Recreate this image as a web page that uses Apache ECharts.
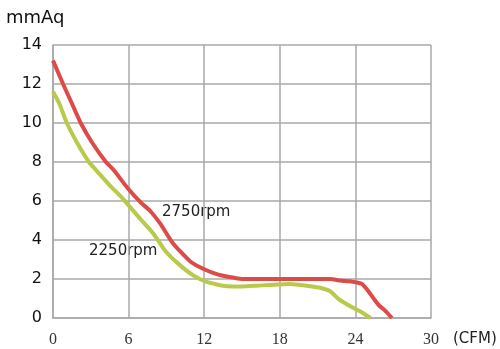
<!DOCTYPE html>
<html><head><meta charset="utf-8">
<script src="https://cdn.jsdelivr.net/npm/echarts@6/dist/echarts.min.js"></script>
<style>html,body{margin:0;padding:0;background:#fff}#c{width:500px;height:349px}</style>
</head><body><div id="c"></div>
<script>
const xTicks = [0, 6, 12, 18, 24, 30];
const yTicks = [0, 2, 4, 6, 8, 10, 12, 14];
const seriesNames = ['2750rpm', '2250rpm'];
const red2750 = [[0,13.2],[0.8,12],[1.5,11],[2.2,10],[3.1,9],[4.2,8],[4.8,7.6],[6.0,6.6],[7.0,5.9],[7.7,5.5],[8.5,4.85],[9.5,3.85],[10.9,2.9],[12,2.5],[13,2.25],[14,2.1],[15,2.0],[18,2.0],[22,2.0],[22.8,1.92],[23.6,1.88],[24.5,1.76],[25.0,1.4],[25.8,0.7],[26.4,0.35],[26.9,0]];
const green2250 = [[0,11.6],[0.5,11],[1.1,10],[1.9,9],[2.85,8],[3.4,7.6],[4.5,6.8],[5.5,6.15],[6.9,5.1],[8.0,4.3],[8.9,3.45],[10,2.75],[11.1,2.2],[12.2,1.85],[13.8,1.63],[15,1.62],[16.2,1.66],[18.8,1.75],[20.4,1.63],[21.2,1.55],[22,1.37],[22.7,0.95],[23.6,0.6],[24.5,0.3],[25.2,0]];
const chart = echarts.init(document.getElementById('c'));
const grid = '#a9a9a9';
chart.setOption({
  animation: false,
  grid: {left: 53, right: 69, top: 45, bottom: 31},
  xAxis: {
    type: 'value', min: 0, max: 30, interval: 6,
    name: '(CFM)', nameLocation: 'end', nameGap: 22,
    nameTextStyle: {fontFamily: 'DejaVu Sans', fontSize: 15, color: '#222', verticalAlign: 'top', padding: [14, 0, 0, 0]},
    axisLine: {lineStyle: {color: grid, width: 1.5}},
    axisTick: {show: false},
    splitLine: {show: true, lineStyle: {color: grid, width: 1.5}},
    axisLabel: {fontFamily: 'Liberation Serif', fontSize: 16, color: '#333', margin: 14}
  },
  yAxis: {
    type: 'value', min: 0, max: 14, interval: 2,
    axisLine: {show: true, lineStyle: {color: grid, width: 1.5}},
    axisTick: {show: false},
    splitLine: {show: true, lineStyle: {color: grid, width: 1.5}},
    axisLabel: {fontFamily: 'DejaVu Sans', fontSize: 16, color: '#111', margin: 11}
  },
  graphic: [
    {type: 'text', left: 6, top: 9, style: {text: 'mmAq', font: '18px "DejaVu Sans"', fill: '#111'}},
    {type: 'text', left: 162, top: 205, style: {text: seriesNames[0], font: '15px "DejaVu Sans"', fill: '#222'}},
    {type: 'text', left: 89, top: 244, style: {text: seriesNames[1], font: '15px "DejaVu Sans"', fill: '#222'}}
  ],
  series: [
    {name: seriesNames[0], type: 'line', data: red2750, showSymbol: false, smooth: 0.2, lineStyle: {color: '#dd4b48', width: 4}, z: 3},
    {name: seriesNames[1], type: 'line', data: green2250, showSymbol: false, smooth: 0.2, lineStyle: {color: '#b9c94a', width: 4}, z: 2}
  ]
});
</script></body></html>
